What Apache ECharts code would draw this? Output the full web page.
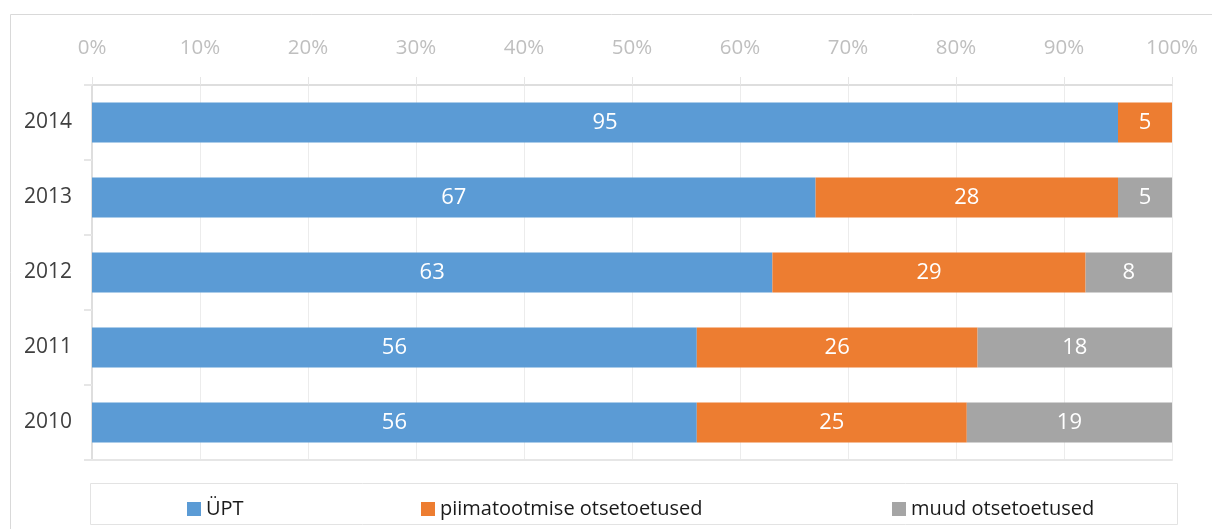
<!DOCTYPE html>
<html>
<head>
<meta charset="utf-8">
<script src="https://cdn.jsdelivr.net/npm/echarts@6/dist/echarts.min.js"></script>
<style>
  html, body { margin: 0; padding: 0; background: #fff; }
  #chart { width: 1212px; height: 529px; }
</style>
</head>
<body>
<div id="chart"></div>
<script>
// andmed
var years = ['2010', '2011', '2012', '2013', '2014'];
var upt = [56, 56, 63, 67, 95];
var piim = [25, 26, 29, 28, 5];
var muud = [19, 18, 8, 5, 0];
var seriesNames = ['ÜPT', 'piimatootmise otsetoetused', 'muud otsetoetused'];
var colors = ['#5B9BD5', '#ED7D31', '#A5A5A5'];

var font = '"Open Sans", sans-serif';

function barSeries(name, data) {
    return {
        name: name,
        type: 'bar',
        stack: 'total',
        barWidth: 40,
        data: data,
        label: {
            show: true,
            position: 'inside',
            color: '#fff',
            fontSize: 22,
            fontFamily: font,
            formatter: function (p) { return p.value > 0 ? p.value : ''; }
        }
    };
}

function legendAt(left, name) {
    return {
        left: left,
        top: 494,
        itemWidth: 14,
        itemHeight: 14,
        itemGap: 0,
        icon: 'rect',
        data: [name],
        textStyle: { color: '#1a1a1a', fontSize: 20, fontFamily: font }
    };
}

var chart = echarts.init(document.getElementById('chart'));
chart.setOption({
    animation: false,
    color: colors,
    grid: { left: 92, right: 40, top: 85, bottom: 69 },
    legend: [
        legendAt(182, seriesNames[0]),
        legendAt(416, seriesNames[1]),
        legendAt(887, seriesNames[2])
    ],
    graphic: [
        {
            type: 'rect', silent: true,
            shape: { x: 10.5, y: 14.5, width: 1230, height: 600 },
            style: { fill: 'none', stroke: '#d9d9d9', lineWidth: 1 }
        },
        {
            type: 'rect', silent: true,
            shape: { x: 90.5, y: 483.5, width: 1087, height: 41 },
            style: { fill: 'none', stroke: '#e3e3e3', lineWidth: 1 }
        }
    ],
    xAxis: [
        {
            type: 'value',
            position: 'top',
            min: 0,
            max: 100,
            interval: 10,
            axisLine: { show: true, lineStyle: { color: '#dedede', width: 2 } },
            axisTick: { show: true, length: 8, lineStyle: { color: '#e6e6e6' } },
            axisLabel: {
                color: '#bfbfbf', fontSize: 20.5, fontFamily: font, margin: 26,
                formatter: '{value}%'
            },
            splitLine: { show: true, lineStyle: { color: '#ececec' } }
        },
        {
            type: 'value',
            position: 'bottom',
            min: 0,
            max: 100,
            axisLine: { show: true, lineStyle: { color: '#e6e6e6', width: 2 } },
            axisTick: { show: false },
            axisLabel: { show: false },
            splitLine: { show: false }
        }
    ],
    yAxis: {
        type: 'category',
        data: years,
        axisLine: { show: true, lineStyle: { color: '#dedede', width: 2 } },
        axisTick: { show: true, length: 8, lineStyle: { color: '#e6e6e6', width: 2 } },
        axisLabel: { color: '#404040', fontSize: 21, fontFamily: font, margin: 20 }
    },
    series: [
        barSeries(seriesNames[0], upt),
        barSeries(seriesNames[1], piim),
        barSeries(seriesNames[2], muud)
    ]
});
</script>
</body>
</html>
